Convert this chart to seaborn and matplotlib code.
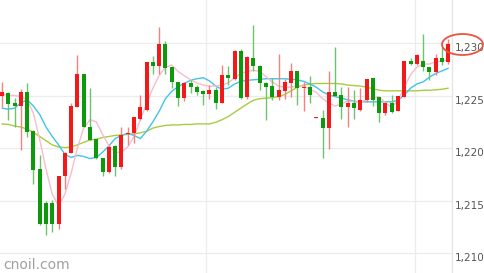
import numpy as np
import pandas as pd
import matplotlib
matplotlib.use("Agg")
import matplotlib.pyplot as plt
import seaborn as sns
from matplotlib.patches import Ellipse
from matplotlib.transforms import ScaledTranslation

# ---- data ----
opens = [1225.0, 1225.2, 1224.3, 1224.0, 1225.3, 1221.6, 1218.0, 1214.8, 1214.8, 1212.8,
         1217.3, 1219.55, 1223.9, 1227.05, 1222.0, 1220.9, 1219.1, 1217.75, 1220.2, 1218.2,
         1221.3, 1221.4, 1222.8, 1223.6, 1228.2, 1227.85, 1229.9, 1227.7, 1226.3, 1224.8,
         1226.2, 1225.85, 1225.4, 1225.15, 1225.5, 1224.25, 1227.0, 1226.6, 1229.2, 1224.85,
         1228.6, 1227.8, 1226.15, 1225.9, 1224.9, 1225.45, 1226.2, 1227.3, 1225.75, 1225.8,
         1222.85, 1222.9, 1221.9, 1225.3, 1225.05, 1223.9, 1224.3, 1223.6, 1224.55, 1226.7,
         1224.9, 1223.3, 1224.25, 1223.5, 1224.9, 1228.3, 1228.05, 1228.3, 1227.75, 1227.2,
         1228.6, 1228.2]
highs = [1226.3, 1225.3, 1224.8, 1225.6, 1226.2, 1221.7, 1219.3, 1215.0, 1215.1, 1217.3,
         1219.6, 1224.3, 1228.85, 1227.05, 1225.75, 1220.9, 1219.1, 1220.3, 1220.3, 1222.0,
         1222.0, 1223.0, 1225.1, 1228.2, 1228.8, 1231.5, 1230.2, 1227.7, 1226.3, 1226.3,
         1226.5, 1226.0, 1225.55, 1226.0, 1225.85, 1227.9, 1227.8, 1229.35, 1229.4, 1228.8,
         1231.7, 1227.9, 1226.3, 1226.7, 1229.0, 1226.6, 1228.1, 1227.3, 1226.3, 1226.85,
         1222.95, 1223.6, 1227.3, 1229.65, 1225.85, 1225.8, 1225.5, 1225.7, 1226.6, 1226.7,
         1224.9, 1224.4, 1225.05, 1224.95, 1228.3, 1228.6, 1229.0, 1230.9, 1227.75, 1229.0,
         1229.65, 1230.35]
lows = [1223.9, 1222.7, 1222.0, 1219.8, 1221.1, 1216.6, 1212.7, 1211.7, 1212.0, 1212.3,
        1216.1, 1219.55, 1223.9, 1222.0, 1220.8, 1219.0, 1217.3, 1217.6, 1217.3, 1218.05,
        1220.3, 1220.45, 1222.7, 1223.5, 1227.1, 1227.1, 1227.05, 1225.7, 1224.0, 1224.5,
        1225.2, 1225.05, 1224.1, 1224.7, 1223.7, 1224.25, 1226.0, 1226.5, 1224.7, 1224.7,
        1227.3, 1225.5, 1222.7, 1224.6, 1224.6, 1224.7, 1224.9, 1224.1, 1223.55, 1224.3,
        1222.85, 1219.1, 1219.9, 1224.95, 1222.8, 1222.0, 1222.8, 1223.55, 1224.4, 1224.0,
        1222.5, 1223.15, 1223.3, 1223.5, 1224.9, 1227.9, 1227.9, 1227.3, 1226.5, 1226.95,
        1227.9, 1228.05]
closes = [1225.3, 1224.2, 1224.0, 1225.3, 1221.55, 1217.9, 1212.8, 1212.8, 1212.8, 1217.3,
          1219.55, 1224.0, 1227.05, 1222.0, 1220.8, 1219.1, 1217.7, 1220.1, 1218.2, 1221.25,
          1221.45, 1223.0, 1223.9, 1228.2, 1227.85, 1229.9, 1227.6, 1226.3, 1224.8, 1226.2,
          1225.85, 1225.3, 1225.15, 1225.5, 1224.25, 1227.0, 1226.7, 1229.2, 1224.8, 1228.7,
          1227.8, 1226.15, 1225.85, 1224.9, 1225.5, 1226.3, 1227.3, 1225.7, 1225.85, 1225.1,
          1222.95, 1221.9, 1225.3, 1224.95, 1223.9, 1224.25, 1223.8, 1224.6, 1226.6, 1224.55,
          1223.3, 1224.25, 1223.45, 1224.95, 1228.3, 1228.05, 1228.85, 1227.7, 1227.2, 1228.6,
          1228.2, 1229.95]
ma_short = [1225.1, 1225.05, 1225.0, 1224.9, 1224.6, 1223.3, 1220.8, 1218.0, 1215.6, 1214.5,
            1215.6, 1217.6, 1220.0, 1221.9, 1222.7, 1222.5, 1221.3, 1220.2, 1219.6, 1219.6,
            1220.1, 1221.1, 1222.7, 1224.2, 1225.7, 1226.9, 1227.7, 1227.9, 1227.3, 1226.9,
            1226.5, 1226.2, 1226.0, 1225.9, 1225.9, 1226.0, 1226.2, 1226.7, 1227.1, 1227.3,
            1227.4, 1227.3, 1226.8, 1226.3, 1225.9, 1225.8, 1225.8, 1225.9, 1225.9, 1225.6,
            1225.3, 1224.7, 1224.3, 1224.0, 1224.2, 1224.5, 1224.4, 1224.4, 1224.6, 1224.8,
            1224.9, 1224.3, 1223.9, 1224.5, 1225.8, 1227.0, 1227.7, 1228.0, 1228.0, 1228.2,
            1228.3, 1228.4]
ma_mid = [1223.8, 1223.7, 1223.8, 1224.3, 1224.6, 1224.0, 1223.2, 1222.0, 1221.1, 1220.3,
          1219.4, 1219.1, 1219.3, 1219.2, 1219.0, 1219.1, 1219.6, 1220.2, 1220.9, 1221.2,
          1221.4, 1221.2, 1220.9, 1221.6, 1222.5, 1223.5, 1224.7, 1225.4, 1225.85, 1226.15,
          1226.45, 1226.6, 1226.7, 1226.4, 1225.9, 1225.6, 1225.7, 1226.1, 1226.35, 1226.45,
          1226.5, 1226.55, 1226.6, 1226.6, 1226.6, 1226.6, 1226.55, 1226.5, 1226.35, 1226.1,
          1225.8, 1225.35, 1225.05, 1224.9, 1224.75, 1224.6, 1224.45, 1224.4, 1224.4, 1224.4,
          1224.4, 1224.4, 1224.4, 1224.55, 1225.05, 1225.7, 1226.1, 1226.3, 1226.75, 1227.1,
          1227.35, 1227.6]
ma_long = [1222.3, 1222.25, 1222.1, 1222.0, 1221.8, 1221.5, 1221.1, 1220.7, 1220.3, 1220.1,
           1220.05, 1220.1, 1220.3, 1220.55, 1220.75, 1220.85, 1221.0, 1221.1, 1221.2, 1221.25,
           1221.3, 1221.35, 1221.45, 1221.6, 1221.9, 1222.05, 1222.15, 1222.2, 1222.2, 1222.25,
           1222.25, 1222.3, 1222.3, 1222.3, 1222.45, 1222.7, 1223.0, 1223.4, 1223.8, 1224.2,
           1224.55, 1224.7, 1224.75, 1224.8, 1224.9, 1225.1, 1225.45, 1225.8, 1226.0, 1226.1,
           1226.15, 1226.15, 1226.15, 1226.15, 1226.1, 1226.0, 1225.95, 1225.9, 1225.8, 1225.65,
           1225.5, 1225.45, 1225.45, 1225.45, 1225.45, 1225.45, 1225.45, 1225.5, 1225.5, 1225.55,
           1225.6, 1225.7]
y_ticks = [1210, 1215, 1220, 1225, 1230]
y_tick_labels = ["1,210", "1,215", "1,220", "1,225", "1,230"]
day_breaks = [32.5, 65.7]
watermark = "cnoil.com"

# ---- style ----
sns.set_theme(style="white")
plt.rcParams['font.family'] = ['DejaVu Sans']

W, H = 484, 273
fig = plt.figure(figsize=(W / 100, H / 100), dpi=100)
fig.patch.set_facecolor("white")
ax = fig.add_axes([0, 0, 452 / W, 1])
ax.set_facecolor("white")

o = np.array(opens); h = np.array(highs); l = np.array(lows); c = np.array(closes)
idx = np.arange(len(o))
df = pd.DataFrame({"i": idx, "short": ma_short, "mid": ma_mid, "long": ma_long})

# moving-average lines (behind candles)
for col, color in [("long", "#a9cc3f"), ("mid", "#42c3ea"), ("short", "#f9bccb")]:
    sns.lineplot(data=df, x="i", y=col, ax=ax, color=color, lw=1.0,
                 legend=False, zorder=2)

up = c >= o
wick_colors = np.where(up, "#f58080", "#6cc46c")
body_colors = np.where(up, "#f41919", "#0c9a0c")
ax.vlines(idx, l, h, colors=wick_colors, lw=1.0, zorder=3)
ax.bar(idx, np.maximum(np.abs(c - o), 0.1), bottom=np.minimum(o, c), width=0.64,
       color=body_colors, linewidth=0, zorder=4)

# axes
ax.set_xlim(-0.318, 71.59)
ax.set_ylim(1208.1, 1234.1)
ax.set_xlabel(""); ax.set_ylabel("")
ax.set_xticks(day_breaks)
ax.set_xticklabels([])
ax.set_yticks(y_ticks)
ax.set_yticklabels(y_tick_labels)
ax.yaxis.tick_right()
ax.tick_params(axis="both", length=0)
ax.tick_params(axis="y", labelsize=7.5, labelcolor="#555555", pad=2.0)
ax.grid(True, color="#ececec", lw=0.9, zorder=0)
ax.set_axisbelow(True)
for side in ["left", "top", "bottom"]:
    ax.spines[side].set_visible(False)
ax.spines["right"].set_color("#e4e4e4")
ax.spines["right"].set_linewidth(0.9)

off = ScaledTranslation(0, -3 / 72, fig.dpi_scale_trans)
for lab in ax.get_yticklabels():
    lab.set_transform(lab.get_transform() + off)

# highlight ellipse around last price label
fig.add_artist(Ellipse((462.5 / W, 1 - 44.5 / H), 41 / W, 21 / H,
                       transform=fig.transFigure, fill=False,
                       edgecolor="#e8553f", lw=1.3, zorder=10))

fig.text(3 / W, 1 - 265 / H, watermark, va="center", ha="left",
         fontsize=10, color="#a0a0a0")

fig.savefig("out.png", dpi=100, facecolor="white")
